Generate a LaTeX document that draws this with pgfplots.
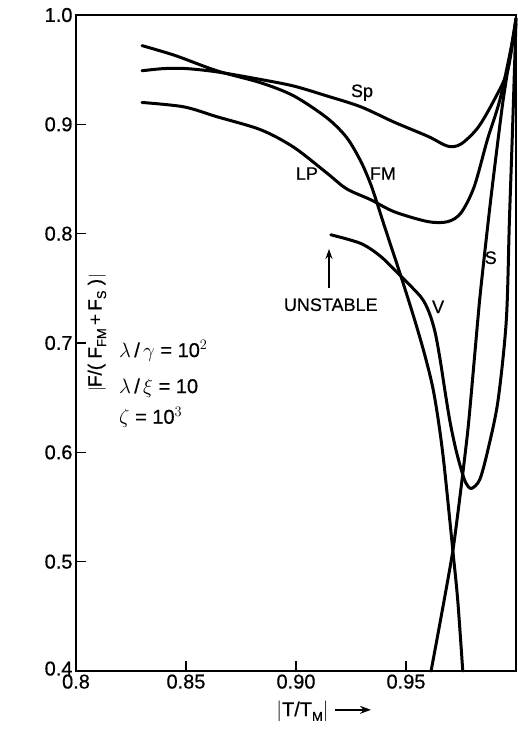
\documentclass[border=0pt]{standalone}
\usepackage{fontspec}
\setmainfont{Liberation Sans}[FakeBold=0.6]
\usepackage{pgfplots}
\pgfplotsset{compat=1.18}
\usetikzlibrary{arrows.meta}
\newcommand\sub[1]{\raisebox{-0.45ex}{\fontsize{13}{13}\selectfont #1}}
\begin{document}
\begin{tikzpicture}[x=1pt,y=1pt]
\begin{axis}[
  scale only axis, width=440pt, height=656pt,
  xmin=0.8, xmax=1.0, ymin=0.4, ymax=1.0,
  axis line style={line width=1.6pt},
  tick style={line width=1.4pt, black},
  tick align=inside, major tick length=10pt,
  xtick pos=bottom, ytick pos=left,
  xtick={0.8,0.85,0.9,0.95}, xticklabels={0.8,0.85,0.90,0.95},
  ytick={0.4,0.5,0.6,0.7,0.8,0.9,1.0}, yticklabels={\raisebox{5pt}{0.4},0.5,0.6,0.7,0.8,0.9,1.0},
  /pgf/number format/assume math mode=true,
  tick label style={font=\fontsize{20}{22}\selectfont},
  xticklabel style={yshift=0pt},
  clip=false,
]
\pgfplotsset{cv/.style={black, line width=3pt, no markers, line cap=round, line join=round, smooth, tension=0.5}}
% Sp
\addplot[cv] coordinates {(0.830,0.949) (0.840,0.951) (0.850,0.951) (0.864,0.948) (0.884,0.941) (0.899,0.935) (0.914,0.926) (0.9295,0.916) (0.9446,0.902) (0.960,0.889) (0.969,0.880) (0.975,0.882) (0.9827,0.897) (0.990,0.922) (0.9963,0.950) (1.0,0.997)};
% FM
\addplot[cv] coordinates {(0.830,0.972) (0.845,0.963) (0.864,0.949) (0.884,0.938) (0.899,0.926) (0.914,0.906) (0.923,0.888) (0.9295,0.866) (0.934,0.845) (0.937,0.827) (0.9405,0.805) (0.9477,0.761) (0.9538,0.722) (0.9584,0.690) (0.9622,0.659) (0.9650,0.625) (0.9674,0.587) (0.9713,0.510) (0.9735,0.465) (0.9758,0.4)};
% LP
\addplot[cv] coordinates {(0.830,0.920) (0.849,0.916) (0.864,0.907) (0.884,0.895) (0.899,0.879) (0.9143,0.855) (0.923,0.841) (0.934,0.831) (0.9447,0.820) (0.960,0.811) (0.969,0.811) (0.975,0.819) (0.981,0.843) (0.987,0.886) (0.993,0.925) (1.0,0.992)};
% V
\addplot[cv] coordinates {(0.9158,0.799) (0.9295,0.791) (0.9386,0.779) (0.9477,0.761) (0.9568,0.742) (0.9605,0.728) (0.9632,0.710) (0.9655,0.685) (0.9678,0.655) (0.970,0.628) (0.9725,0.604) (0.9750,0.585) (0.9772,0.572) (0.9797,0.567) (0.9835,0.575) (0.9872,0.602) (0.9918,0.647) (0.9956,0.721) (0.997,0.812) (0.9985,0.90) (1.0,0.995)};
% S
\addplot[cv, tension=0.3] coordinates {(0.9614,0.4) (0.9713,0.51) (0.9781,0.62) (0.9835,0.74) (0.9885,0.831) (0.9940,0.92) (1.0,0.997)};
% labels
\node[font=\fontsize{18}{20}\selectfont] at (axis cs:0.930,0.929) {Sp};
\node[font=\fontsize{18}{20}\selectfont] at (axis cs:0.905,0.855) {LP};
\node[font=\fontsize{18}{20}\selectfont] at (axis cs:0.9395,0.855) {FM};
\node[font=\fontsize{18}{20}\selectfont] at (axis cs:0.9646,0.733) {V};
\node[font=\fontsize{18}{20}\selectfont] at (axis cs:0.9885,0.778) {S};
\node[font=\fontsize{18}{20}\selectfont] at (axis cs:0.9158,0.735) {UNSTABLE};
\draw[line width=1.4pt, -{Stealth[length=10pt,width=7pt]}] (axis cs:0.915,0.750) -- (axis cs:0.915,0.786);
\node[font=\fontsize{20}{22}\selectfont, anchor=west] at (axis cs:0.8180,0.693) {$\lambda$\,/\,$\gamma$ = 10$^{2}$};
\node[font=\fontsize{20}{22}\selectfont, anchor=west] at (axis cs:0.8180,0.659) {$\lambda$\,/\,$\xi$ = 10};
\node[font=\fontsize{20}{22}\selectfont, anchor=west] at (axis cs:0.8180,0.632) {$\zeta$ = 10$^{3}$};
\end{axis}
\node[rotate=90, font=\fontsize{19}{21}\selectfont] at (21pt,338pt) {$|$F/( F\sub{FM}\,+\,F\sub{S} )$|$};
\node[font=\fontsize{20}{22}\selectfont] at (248pt,-40pt) {$|$T/T\sub{M}$|$ \tikz[baseline=-0.6ex]\draw[line width=1.5pt,-{Stealth[length=11pt,width=8pt]}](0,0)--(36pt,0);};
\pgfresetboundingbox
\path (-76pt,-62pt) rectangle (442pt,671pt);
\end{tikzpicture}
\end{document}
